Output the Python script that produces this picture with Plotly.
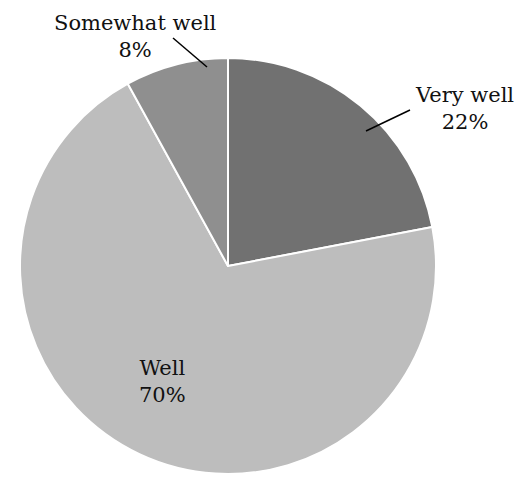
import plotly.graph_objects as go

# Survey responses
categories = ["Very well", "Well", "Somewhat well"]
shares = [22, 70, 8]
colors = ["#717171", "#bdbdbd", "#8f8f8f"]

W, H = 517, 478


def px(x):
    return x / W


def py(y):
    return 1 - y / H


font = dict(family="DejaVu Serif", size=21, color="#111111")

fig = go.Figure(
    go.Pie(
        labels=categories,
        values=shares,
        sort=False,
        direction="clockwise",
        rotation=0,
        marker=dict(colors=colors, line=dict(color="white", width=2)),
        textinfo="none",
        hoverinfo="label+percent",
        showlegend=False,
        domain=dict(x=[px(20), px(436)], y=[py(474), py(58)]),
    )
)

# Text labels: name on the first line, share on the second
label_pos = {
    "Very well": (464, 108),
    "Somewhat well": (135, 37),
    "Well": (162, 381),
}
annotations = []
for name, val in zip(categories, shares):
    x, y = label_pos[name]
    annotations.append(
        dict(
            x=px(x), y=py(y), xref="paper", yref="paper",
            text=f"{name}<br>{val}%", showarrow=False,
            xanchor="center", yanchor="middle", align="center",
            font=font,
        )
    )

# Leader lines for the labels outside the pie
leaders = [((366, 131), (410, 110)), ((207, 67), (173, 38))]
shapes = [
    dict(type="line", xref="paper", yref="paper",
         x0=px(a[0]), y0=py(a[1]), x1=px(b[0]), y1=py(b[1]),
         line=dict(color="black", width=1.5))
    for a, b in leaders
]

fig.update_layout(
    width=W, height=H,
    margin=dict(l=0, r=0, t=0, b=0),
    paper_bgcolor="white", plot_bgcolor="white",
    annotations=annotations, shapes=shapes,
)

fig.write_html("out.html")
